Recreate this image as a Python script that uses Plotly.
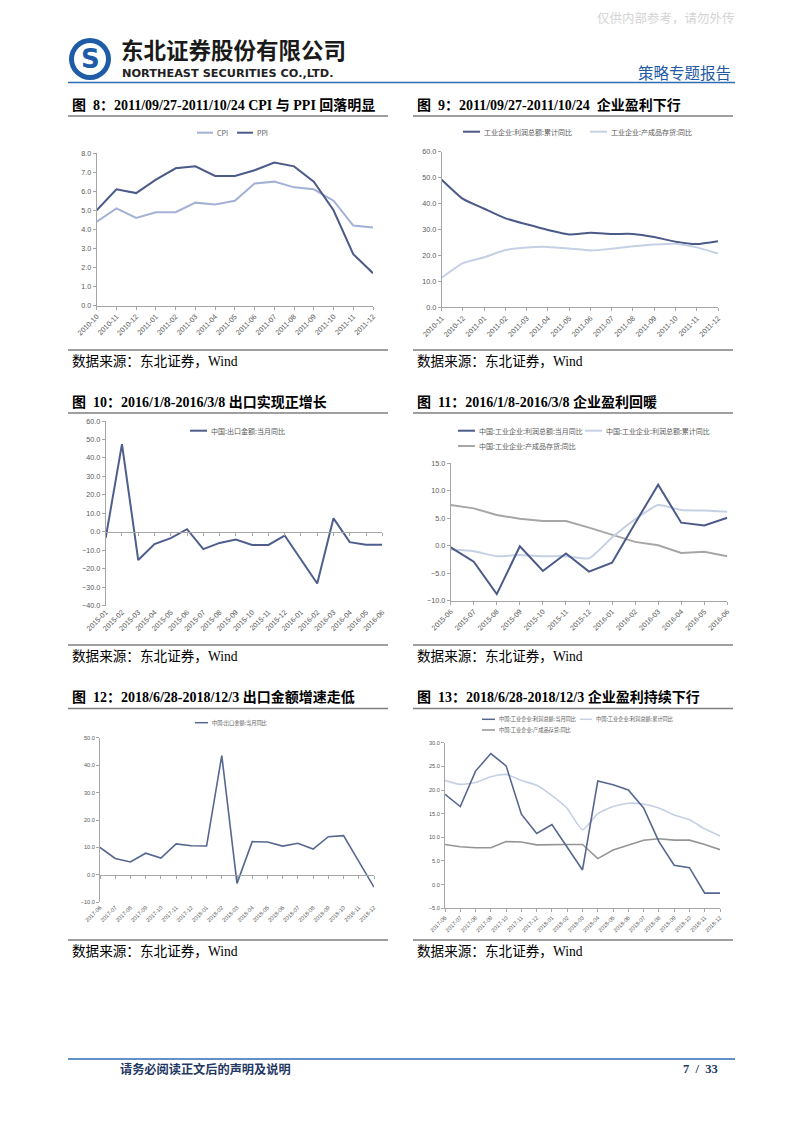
import plotly.graph_objects as go

W, H = 802, 1133

# ---------------- data ----------------
c8_months = ["2010-10", "2010-11", "2010-12", "2011-01", "2011-02", "2011-03", "2011-04", "2011-05",
             "2011-06", "2011-07", "2011-08", "2011-09", "2011-10", "2011-11", "2011-12"]
c8_cpi = [4.4, 5.1, 4.6, 4.9, 4.9, 5.4, 5.3, 5.5, 6.4, 6.5, 6.2, 6.1, 5.5, 4.2, 4.1]
c8_ppi = [5.0, 6.1, 5.9, 6.6, 7.2, 7.3, 6.8, 6.8, 7.1, 7.5, 7.3, 6.5, 5.0, 2.7, 1.7]

c9_months = ["2010-11", "2010-12", "2011-01", "2011-02", "2011-03", "2011-04", "2011-05", "2011-06",
             "2011-07", "2011-08", "2011-09", "2011-10", "2011-11", "2011-12"]
c9_profit_cum = [49.2, 41.8, 38.0, 34.3, 32.0, 29.8, 28.1, 28.7, 28.3, 28.3, 27.1, 25.3, 24.4, 25.5]
c9_inventory = [11.4, 17.0, 19.3, 22.1, 23.1, 23.3, 22.7, 21.9, 22.6, 23.5, 24.2, 24.5, 23.1, 20.7]

c10_months = ["2015-01", "2015-02", "2015-03", "2015-04", "2015-05", "2015-06", "2015-07", "2015-08",
              "2015-09", "2015-10", "2015-11", "2015-12", "2016-01", "2016-02", "2016-03", "2016-04",
              "2016-05", "2016-06"]
c10_export = [-3.3, 47.5, -15.3, -6.6, -3.4, 1.4, -9.4, -6.0, -4.2, -7.1, -7.1, -2.0, -15.0, -28.0,
              7.3, -5.6, -7.0, -7.0]

c11_months = ["2015-06", "2015-07", "2015-08", "2015-09", "2015-10", "2015-11", "2015-12", "2016-01",
              "2016-02", "2016-03", "2016-04", "2016-05", "2016-06"]
c11_profit_month = [-0.3, -2.9, -8.8, -0.1, -4.6, -1.4, -4.7, -3.1, 4.1, 11.1, 4.2, 3.7, 5.1]
c11_profit_cum = [-0.7, -1.0, -1.9, -1.7, -1.9, -1.9, -2.3, 1.5, 4.8, 7.4, 6.5, 6.4, 6.2]
c11_inventory = [7.4, 6.8, 5.6, 4.9, 4.5, 4.5, 3.3, 2.0, 0.7, 0.1, -1.3, -1.1, -1.9]

c12_months = ["2017-06", "2017-07", "2017-08", "2017-09", "2017-10", "2017-11", "2017-12", "2018-01",
              "2018-02", "2018-03", "2018-04", "2018-05", "2018-06", "2018-07", "2018-08", "2018-09",
              "2018-10", "2018-11", "2018-12"]
c12_export = [10.0, 6.0, 4.7, 7.9, 6.1, 11.3, 10.6, 10.5, 43.5, -3.1, 12.1, 12.0, 10.5, 11.5, 9.4,
              13.9, 14.3, 4.8, -4.5]

c13_months = c12_months
c13_profit_month = [19.1, 16.5, 24.0, 27.7, 25.1, 14.9, 10.8, 12.7, 7.9, 3.1, 21.9, 21.1, 20.0, 16.2,
                    9.1, 4.1, 3.6, -1.8, -1.8]
c13_profit_cum = [22.0, 21.2, 21.6, 22.8, 23.3, 22.0, 21.0, 18.8, 16.1, 11.6, 15.0, 16.5, 17.2, 17.0,
                  16.2, 14.7, 13.7, 11.8, 10.3]
c13_inventory = [8.5, 8.0, 7.8, 7.8, 9.1, 9.0, 8.4, 8.5, 8.5, 8.5, 5.5, 7.3, 8.3, 9.4, 9.7, 9.4, 9.4,
                 8.5, 7.4]

# ---------------- styling ----------------
DARK = "#4b5a88"
DARK2 = "#56678f"
LIGHT8 = "#a4b1d5"
LIGHT = "#c6d0e5"
GRAY = "#a6a6a6"
GRAY13 = "#959595"
AXIS = "#a6a6a6"
TICKC = "#595959"
SANS = "Liberation Sans, Arial, Noto Sans CJK SC"
SERIF = "Liberation Serif, Times New Roman, Noto Sans CJK SC"
CJK = "Noto Sans CJK SC"


def fx(x):
    return x / W


def fy(y):
    return 1 - y / H


fig = go.Figure()
layout = dict(width=W, height=H, margin=dict(l=0, r=0, t=0, b=0, pad=0, autoexpand=False),
              paper_bgcolor="white", plot_bgcolor="rgba(0,0,0,0)", showlegend=False)
shapes, annotations = [], []

charts = [
    dict(i=1, xd=(96.7, 373), yd=(153, 305.7), yr=(0, 8), dtick=1, cats=c8_months, fs=7.2, zero=False,
         series=[(c8_cpi, LIGHT8, 2, "linear"), (c8_ppi, DARK, 2, "linear")]),
    dict(i=2, xd=(441.7, 718), yd=(151.7, 307.3), yr=(0, 60), dtick=10, cats=c9_months, fs=7.2, zero=False,
         series=[(c9_profit_cum, DARK, 2, "spline"), (c9_inventory, LIGHT, 2, "spline")]),
    dict(i=3, xd=(105.7, 382.3), yd=(421, 605.7), yr=(-40, 60), dtick=10, cats=c10_months, fs=7.2, zero=True,
         series=[(c10_export, "#4e5e8d", 2, "linear")]),
    dict(i=4, xd=(450.7, 727.3), yd=(463.3, 600.7), yr=(-10, 15), dtick=5, cats=c11_months, fs=7.2, zero=False,
         series=[(c11_inventory, GRAY, 2, "linear"), (c11_profit_cum, LIGHT, 2, "spline"),
                 (c11_profit_month, DARK, 2, "linear")]),
    dict(i=5, xd=(100, 374), yd=(737.7, 902.3), yr=(-10, 50), dtick=10, cats=c12_months, fs=5.6, zero=True,
         series=[(c12_export, DARK2, 1.6, "linear")]),
    dict(i=6, xd=(445, 720), yd=(742.7, 908.3), yr=(-5, 30), dtick=5, cats=c13_months, fs=5.6, zero=False,
         series=[(c13_inventory, GRAY13, 1.6, "linear"), (c13_profit_cum, LIGHT, 1.6, "spline"),
                 (c13_profit_month, DARK2, 1.6, "linear")]),
]

extra = 7
for c in charts:
    i = c["i"]
    xn = "xaxis" if i == 1 else f"xaxis{i}"
    yn = "yaxis" if i == 1 else f"yaxis{i}"
    xr = "x" if i == 1 else f"x{i}"
    yr_ = "y" if i == 1 else f"y{i}"
    n = len(c["cats"])
    ydom = [fy(c["yd"][1]), fy(c["yd"][0])]
    layout[xn] = dict(domain=[fx(c["xd"][0]), fx(c["xd"][1])], anchor=yr_, type="category",
                      categoryorder="array", categoryarray=c["cats"], range=[0, n - 1],
                      showline=not c["zero"], linecolor=AXIS, linewidth=1, automargin=False,
                      ticks="" if c["zero"] else "outside", ticklen=3, tickcolor=AXIS,
                      tickangle=-45, tickfont=dict(family=SANS, size=c["fs"], color=TICKC),
                      showgrid=False, zeroline=False, fixedrange=True)
    layout[yn] = dict(domain=ydom, anchor=xr, range=list(c["yr"]), dtick=c["dtick"], tick0=c["yr"][0],
                      tickformat=".1f", showline=True, linecolor=AXIS, linewidth=1, ticks="outside",
                      automargin=False,
                      ticklen=3, tickcolor=AXIS, tickfont=dict(family=SANS, size=c["fs"], color=TICKC),
                      showgrid=False, zeroline=False, fixedrange=True)
    for vals, col, w, shp in c["series"]:
        fig.add_trace(go.Scatter(x=c["cats"], y=vals, mode="lines", xaxis=xr, yaxis=yr_,
                                 line=dict(color=col, width=w, shape=shp, smoothing=0.5),
                                 hoverinfo="skip", showlegend=False))
    if c["zero"]:
        y0, y1 = c["yr"]
        zero_px = c["yd"][0] + (y1 - 0) / (y1 - y0) * (c["yd"][1] - c["yd"][0])
        on = f"xaxis{extra}"
        layout[on] = dict(overlaying=xr, anchor="free", position=fy(zero_px), type="linear",
                          range=[0, n - 1], tickvals=list(range(n)), showticklabels=False,
                          automargin=False,
                          showline=True, linecolor=AXIS, linewidth=1, ticks="outside", ticklen=3,
                          tickcolor=AXIS, showgrid=False, zeroline=False, fixedrange=True)
        fig.add_trace(go.Scatter(x=[0], y=[0], mode="markers", xaxis=f"x{extra}", yaxis=yr_,
                                 marker=dict(opacity=0), hoverinfo="skip", showlegend=False))
        extra += 1


def text(x, y, s, size, color="#000000", family=CJK, anchor="left", bold=False):
    if bold:
        s = f"<b>{s}</b>"
    annotations.append(dict(x=fx(x), y=fy(y), xref="paper", yref="paper", text=s, showarrow=False,
                            xanchor=anchor, yanchor="middle",
                            font=dict(size=size, color=color, family=family)))


def hline(x0, x1, y, color, width):
    shapes.append(dict(type="line", xref="paper", yref="paper", x0=fx(x0), x1=fx(x1), y0=fy(y), y1=fy(y),
                       line=dict(color=color, width=width)))


def legend_item(x0, y, length, color, width, label, size):
    hline(x0, x0 + length, y, color, width)
    text(x0 + length + 1.5, y, label, size, color="#595959", family=CJK)


# ---------------- header ----------------
text(666, 18, "仅供内部参考，请勿外传", 12.5, color="#d4d4d4", family=SERIF, anchor="center")
shapes.append(dict(type="circle", xref="paper", yref="paper", x0=fx(69), x1=fx(111), y0=fy(80), y1=fy(38),
                   fillcolor="#1e5ca8", line=dict(width=0)))
shapes.append(dict(type="circle", xref="paper", yref="paper", x0=fx(74), x1=fx(106), y0=fy(75), y1=fy(43),
                   fillcolor="white", line=dict(width=0)))
text(90, 59.5, "<b>S</b>", 26, color="#1e5ca8", family="DejaVu Sans", anchor="center")
text(119, 49.5, "东北证券股份有限公司", 22.5, color="#1a1a1a", family=CJK, bold=True)
text(120, 73.5, "NORTHEAST SECURITIES CO.,LTD.", 11.3, color="#222222", family="DejaVu Sans", bold=True)
text(733, 72, "策略专题报告", 15.5, color="#1f5aa6", family=CJK, anchor="right")
hline(68, 735, 82.5, "#2e6db4", 1.6)

# ---------------- titles / sources ----------------
titles = [
    (70, 105, "图  8：2011/09/27-2011/10/24 CPI 与 PPI 回落明显"),
    (415, 105, "图  9：2011/09/27-2011/10/24  企业盈利下行"),
    (70, 402, "图  10：2016/1/8-2016/3/8 出口实现正增长"),
    (415, 402, "图  11：2016/1/8-2016/3/8 企业盈利回暖"),
    (70, 697, "图  12：2018/6/28-2018/12/3 出口金额增速走低"),
    (415, 697, "图  13：2018/6/28-2018/12/3 企业盈利持续下行"),
]
for x, y, s in titles:
    text(x, y, s, 14, color="#000000", family=SERIF, bold=True)

for ytl in (116, 413, 708.5):
    hline(68, 388, ytl, "#7f7f7f", 1.3)
    hline(413, 733, ytl, "#7f7f7f", 1.3)
for ysl in (350, 645, 940):
    hline(68, 388, ysl, "#7f7f7f", 1.3)
    hline(413, 733, ysl, "#7f7f7f", 1.3)
for ys in (361.5, 656.5, 951.5):
    text(70, ys, "数据来源：东北证券，Wind", 13.6, color="#000000", family=SERIF)
    text(415, ys, "数据来源：东北证券，Wind", 13.6, color="#000000", family=SERIF)

# ---------------- legends ----------------
legend_item(197, 132.7, 16, LIGHT8, 2, "CPI", 7)
legend_item(237, 132.7, 16, DARK, 2, "PPI", 7)
legend_item(463, 131.7, 17, DARK, 2, "工业企业:利润总额:累计同比", 7)
legend_item(590, 131.7, 17, LIGHT, 2, "工业企业:产成品存货:同比", 7)
legend_item(190, 430.7, 17, "#4e5e8d", 2, "中国:出口金额:当月同比", 7)
legend_item(458, 430.7, 17, DARK, 2, "中国:工业企业:利润总额:当月同比", 7)
legend_item(585, 430.7, 17, LIGHT, 2, "中国:工业企业:利润总额:累计同比", 7)
legend_item(458, 446, 17, GRAY, 2, "中国:工业企业:产成品存货:同比", 7)
legend_item(195, 722.7, 13, DARK2, 1.5, "中国:出口金额:当月同比", 5.2)
legend_item(482, 719.3, 13, DARK2, 1.5, "中国:工业企业:利润总额:当月同比", 5.2)
legend_item(580, 719.3, 12, LIGHT, 1.5, "中国:工业企业:利润总额:累计同比", 5.2)
legend_item(482, 730, 13, GRAY13, 1.5, "中国:工业企业:产成品存货:同比", 5.2)

# ---------------- footer ----------------
hline(68, 735, 1059, "#2e6db4", 1.6)
text(118, 1069, "请务必阅读正文后的声明及说明", 12.2, color="#1f3864", family=CJK, bold=True)
text(720, 1069, "7&nbsp;&nbsp;/&nbsp;&nbsp;33", 12.5, color="#1f3864", family=SERIF, anchor="right", bold=True)

layout["shapes"] = shapes
layout["annotations"] = annotations
fig.update_layout(**layout)
fig.write_html("out.html", config={"displayModeBar": False, "staticPlot": True},
               post_script="document.body.style.margin='0px';document.body.style.overflow='hidden';")
